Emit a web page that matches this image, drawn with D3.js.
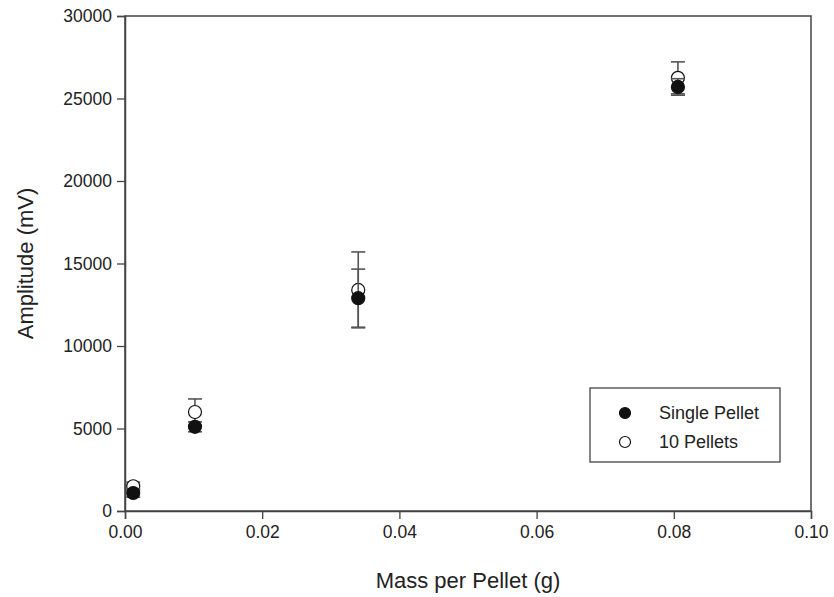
<!DOCTYPE html>
<html>
<head>
<meta charset="utf-8">
<script src="https://cdn.jsdelivr.net/npm/d3@7"></script>
<style>
  body { margin: 0; background: #fff; }
  text { font-family: "Liberation Sans", Arial, sans-serif; fill: #222; }
</style>
</head>
<body>
<div id="chart"></div>
<script>
// values
var massSingle = [0.0012, 0.0102, 0.034, 0.0806];
var ampSingle  = [1090, 5100, 12900, 25700];
var errSingle  = [250, 300, 1760, 500];

var massTen = [0.0012, 0.0102, 0.034, 0.0806];
var ampTen  = [1500, 6000, 13400, 26250];
var errTen  = [250, 790, 2300, 970];

var xTicks = [0, 0.02, 0.04, 0.06, 0.08, 0.10];
var yTicks = [0, 5000, 10000, 15000, 20000, 25000, 30000];
var seriesNames = ['Single Pellet', '10 Pellets'];

var W = 834, H = 597;
var margin = {left: 125, right: 23, top: 16, bottom: 86};

var svg = d3.select('#chart').append('svg')
  .attr('width', W)
  .attr('height', H);

var x = d3.scaleLinear().domain([0, 0.1]).range([margin.left, W - margin.right]);
var y = d3.scaleLinear().domain([0, 30000]).range([H - margin.bottom, margin.top]);

// frame
svg.append('rect')
  .attr('x', x(0)).attr('y', y(30000))
  .attr('width', x(0.1) - x(0)).attr('height', y(0) - y(30000))
  .attr('fill', 'none').attr('stroke', '#444').attr('stroke-width', 1.5);

var xAxis = svg.append('g')
  .attr('transform', 'translate(0,' + y(0) + ')')
  .call(d3.axisBottom(x).tickValues(xTicks).tickFormat(d3.format('.2f')).tickSize(8).tickPadding(7));
var yAxis = svg.append('g')
  .attr('transform', 'translate(' + x(0) + ',0)')
  .call(d3.axisLeft(y).tickValues(yTicks).tickFormat(d3.format('d')).tickSize(8).tickPadding(5));

[xAxis, yAxis].forEach(function(a) {
  a.attr('font-size', 17.5).attr('font-family', '"Liberation Sans", Arial, sans-serif');
  a.select('.domain').attr('stroke', '#444').attr('stroke-width', 1.5);
  a.selectAll('.tick line').attr('stroke', '#444').attr('stroke-width', 1.3);
  a.selectAll('.tick text').style('fill', '#222');
});

svg.append('text')
  .attr('x', (x(0) + x(0.1)) / 2).attr('y', 588)
  .attr('text-anchor', 'middle').attr('font-size', 22)
  .text('Mass per Pellet (g)');
svg.append('text')
  .attr('transform', 'translate(33,' + (y(0) + y(30000)) / 2 + ') rotate(-90)')
  .attr('text-anchor', 'middle').attr('font-size', 22)
  .text('Amplitude (mV)');

function drawSeries(mass, amp, err, filled) {
  var data = mass.map(function(m, i) { return {m: m, a: amp[i], e: err[i]}; });
  var g = svg.append('g');
  var bars = g.selectAll('g.bar').data(data).enter().append('g')
    .attr('stroke', '#555').attr('stroke-width', 1.6);
  bars.append('line')
    .attr('x1', function(d) { return x(d.m); }).attr('x2', function(d) { return x(d.m); })
    .attr('y1', function(d) { return y(d.a - d.e); }).attr('y2', function(d) { return y(d.a + d.e); });
  [-1, 1].forEach(function(s) {
    bars.append('line')
      .attr('x1', function(d) { return x(d.m) - 7; }).attr('x2', function(d) { return x(d.m) + 7; })
      .attr('y1', function(d) { return y(d.a + s * d.e); }).attr('y2', function(d) { return y(d.a + s * d.e); });
  });
  g.selectAll('circle').data(data).enter().append('circle')
    .attr('cx', function(d) { return x(d.m); })
    .attr('cy', function(d) { return y(d.a); })
    .attr('r', 6.5)
    .attr('fill', filled ? '#111' : '#fff')
    .attr('stroke', '#111').attr('stroke-width', 1.2);
}

drawSeries(massTen, ampTen, errTen, false);
drawSeries(massSingle, ampSingle, errSingle, true);

// legend
var lg = svg.append('g').attr('transform', 'translate(590,388)');
lg.append('rect').attr('width', 190).attr('height', 74)
  .attr('fill', '#fff').attr('stroke', '#444').attr('stroke-width', 1.3);
seriesNames.forEach(function(name, i) {
  lg.append('circle').attr('cx', 35).attr('cy', 25 + i * 29).attr('r', 5.5)
    .attr('fill', i === 0 ? '#111' : '#fff').attr('stroke', '#111').attr('stroke-width', 1.2);
  lg.append('text').attr('x', 69).attr('y', 31 + i * 29).attr('font-size', 18).text(name);
});
</script>
</body>
</html>
